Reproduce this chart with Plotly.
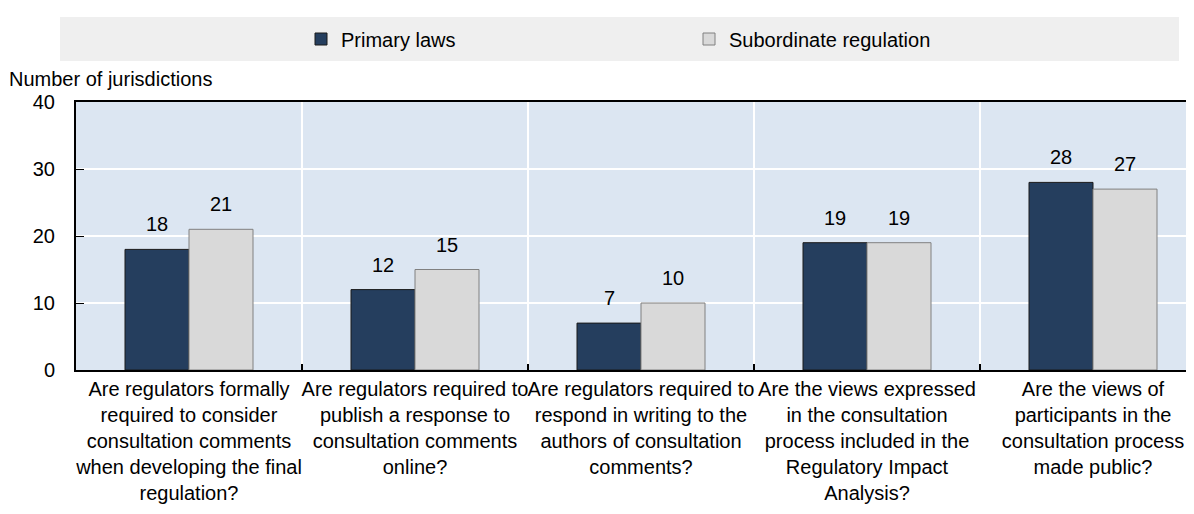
import plotly.graph_objects as go

categories = [
    "Are regulators formally<br>required to consider<br>consultation comments<br>when developing the final<br>regulation?",
    "Are regulators required to<br>publish a response to<br>consultation comments<br>online?",
    "Are regulators required to<br>respond in writing to the<br>authors of consultation<br>comments?",
    "Are the views expressed<br>in the consultation<br>process included in the<br>Regulatory Impact<br>Analysis?",
    "Are the views of<br>participants in the<br>consultation process<br>made public?",
]
primary_laws = [18, 12, 7, 19, 28]
subordinate_regulation = [21, 15, 10, 19, 27]
series_names = ["Primary laws", "Subordinate regulation"]
y_ticks = [0, 10, 20, 30, 40]

# page body has an 8px default margin; work in screen pixels and convert
OFF = 8
W, H = 1194 - OFF, 514 - OFF
PLOT_LEFT, PLOT_TOP, PLOT_BOTTOM = 76, 102, 370  # screen pixels
L = PLOT_LEFT - OFF
T = PLOT_TOP - OFF
B = H - (PLOT_BOTTOM - OFF)
R = 0
pw = W - L - R
ph = H - T - B
CAT_W = 226.0  # px per category
BAR_PX = 64.0

FONT = "Liberation Sans, Arial, sans-serif"
FS = 20

fig = go.Figure()
fig.add_trace(go.Bar(
    x=categories, y=primary_laws, name=series_names[0],
    marker=dict(color="#253e5e", line=dict(color="#1a1a1a", width=1)),
))
fig.add_trace(go.Bar(
    x=categories, y=subordinate_regulation, name=series_names[1],
    marker=dict(color="#d9d9d9", line=dict(color="#808080", width=1)),
))

# value labels above bars
for vals, shift in ((primary_laws, -BAR_PX / 2), (subordinate_regulation, BAR_PX / 2)):
    for c, v in zip(categories, vals):
        fig.add_annotation(x=c, y=v, text=str(v), showarrow=False,
                           xanchor="center", yanchor="middle",
                           xshift=shift, yshift=25,
                           font=dict(size=FS, color="#000000", family=FONT))


def px_x(p):
    return (p - PLOT_LEFT) / pw


def px_y(p):
    return (PLOT_BOTTOM - p) / ph


# legend band
fig.add_shape(type="rect", xref="paper", yref="paper",
              x0=px_x(60), x1=px_x(1179), y0=px_y(61), y1=px_y(17),
              fillcolor="#efefef", line=dict(width=0), layer="below")

fig.add_annotation(text="Number of jurisdictions", xref="paper", yref="paper",
                   x=px_x(7), y=px_y(79), xanchor="left", yanchor="middle",
                   showarrow=False, font=dict(size=FS, color="#000000", family=FONT))

fig.update_layout(
    width=W, height=H,
    margin=dict(l=L, r=R, t=T, b=B, autoexpand=False),
    paper_bgcolor="#ffffff",
    plot_bgcolor="#dce6f2",
    barmode="group",
    bargap=1 - 2 * BAR_PX / CAT_W,
    bargroupgap=0,
    font=dict(family=FONT, size=FS, color="#000000"),
    showlegend=True,
    legend=dict(
        orientation="h",
        xref="container", yref="container",
        x=(301 - OFF) / W, y=1 - (39 - OFF) / H, xanchor="left", yanchor="middle",
        bgcolor="rgba(0,0,0,0)",
        font=dict(size=FS, family=FONT, color="#000000"),
        itemwidth=30,
        entrywidth=343, entrywidthmode="pixels",
        traceorder="normal",
    ),
    xaxis=dict(
        type="category",
        range=[-0.5, -0.5 + pw / CAT_W],
        tickson="boundaries",
        showgrid=True, gridcolor="#ffffff", gridwidth=2,
        ticks="inside", ticklen=6, tickcolor="#000000", tickwidth=2,
        showline=True, linecolor="#000000", linewidth=2, mirror=True,
        tickfont=dict(size=FS, family=FONT, color="#000000"),
        tickangle=0,
    ),
    yaxis=dict(
        range=[0, 40],
        tickvals=y_ticks,
        showgrid=True, gridcolor="#ffffff", gridwidth=2,
        ticks="inside", ticklen=8, tickcolor="#000000", tickwidth=1,
        showline=True, linecolor="#000000", linewidth=2,
        zeroline=False,
        ticklabelstandoff=15,
        tickfont=dict(size=FS, family=FONT, color="#000000"),
    ),
)

fig.write_html("out.html")
